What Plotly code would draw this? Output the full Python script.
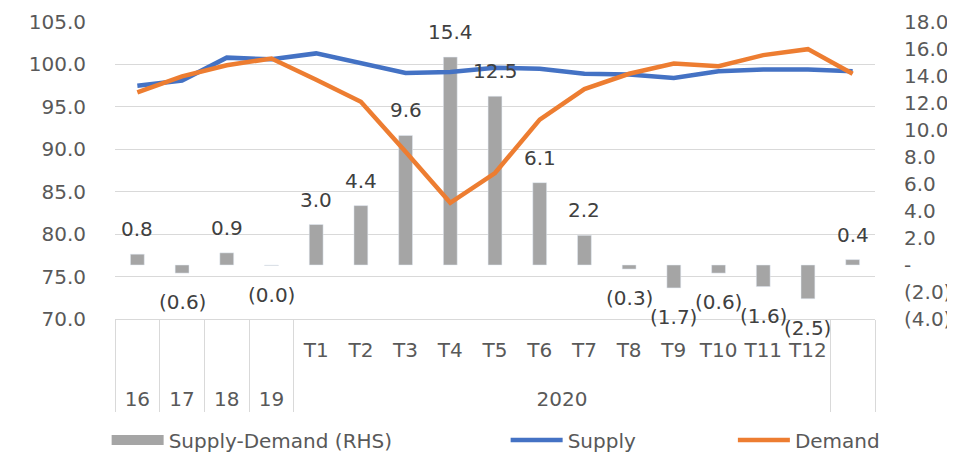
import plotly.graph_objects as go

# 分类：前四个为年份，后十二个为2020年各月，最后一个为空
years = ["16", "17", "18", "19"] + ["2020"] * 12 + [" "]
months = [" "] * 4 + [f"T{i}" for i in range(1, 13)] + [" "]

# 供需差（右轴）
gap = [0.8, -0.6, 0.9, -0.04, 3.0, 4.4, 9.6, 15.4, 12.5, 6.1, 2.2,
       -0.3, -1.7, -0.6, -1.6, -2.5, 0.4]
# 供给 / 需求（左轴）
supply = [97.5, 98.1, 100.8, 100.6, 101.3, 100.1, 99.0, 99.1, 99.6, 99.5,
          98.9, 98.8, 98.4, 99.2, 99.4, 99.4, 99.2]
demand = [96.7, 98.6, 99.9, 100.7, 98.2, 95.6, 89.7, 83.7, 87.2, 93.5,
          97.1, 98.9, 100.1, 99.8, 101.1, 101.8, 98.9]

right_vals = [-4, -2, 0, 2, 4, 6, 8, 10, 12, 14, 16, 18]
right_text = ["(4.0)", "(2.0)", "-", "2.0", "4.0", "6.0", "8.0", "10.0",
              "12.0", "14.0", "16.0", "18.0"]

FONT = "DejaVu Sans"
GREY_TXT = "#595959"
BLUE, ORANGE, BAR = "#4472C4", "#ED7D31", "#A5A5A5"

# 外层标签前加一个空行，让年份那一行往下移；空白内层标签用大字号撑高第一行
pad = '<span style="font-size:29px">\u00a0</span>'
x = [["<br>" + y for y in years], [pad if m == " " else m for m in months]]

fig = go.Figure()

# 柱状图在底层坐标轴（右侧），折线在覆盖轴（左侧）上，保证折线在上方
fig.add_trace(go.Bar(x=x, y=gap, name="Supply-Demand (RHS)", marker_color=BAR,
                     width=0.31, yaxis="y", showlegend=False))
fig.add_trace(go.Scatter(x=[None], y=[None], mode="lines", name="Supply-Demand (RHS)",
                         line=dict(color=BAR, width=10), legend="legend"))
fig.add_trace(go.Scatter(x=x, y=supply, mode="lines", name="Supply",
                         line=dict(color=BLUE, width=4.5), yaxis="y2", legend="legend2"))
fig.add_trace(go.Scatter(x=x, y=demand, mode="lines", name="Demand",
                         line=dict(color=ORANGE, width=4.5), yaxis="y2", legend="legend3"))

# 数据标签
for i, v in enumerate(gap):
    txt = f"{v:.1f}" if v >= 0 else f"({abs(v):.1f})"
    fig.add_annotation(x=i, y=v, xref="x", yref="y", text=txt, showarrow=False,
                       yshift=25 if v >= 0 else -29,
                       font=dict(family=FONT, size=20, color="#404040"))

legend_common = dict(orientation="h", yanchor="middle", y=-0.407, xanchor="left",
                     font=dict(family=FONT, size=20, color=GREY_TXT),
                     bgcolor="rgba(0,0,0,0)", itemwidth=52)

# 页面 body 默认有 8px 外边距，这里把尺寸和边距相应减掉
fig.update_layout(
    width=947, height=445,
    margin=dict(l=107, r=80, t=14, b=134, autoexpand=False),
    plot_bgcolor="white", paper_bgcolor="white",
    font=dict(family=FONT, size=20, color=GREY_TXT),
    xaxis=dict(type="multicategory", showdividers=True, dividercolor="#d9d9d9",
               dividerwidth=1, showline=True, linecolor="#d9d9d9", linewidth=1,
               showgrid=False, ticks="", tickangle=0, automargin=False,
               ticklabelstandoff=13,
               tickfont=dict(family=FONT, size=20, color=GREY_TXT)),
    yaxis=dict(side="right", range=[-4, 18], tickvals=right_vals, ticktext=right_text,
               showgrid=False, zeroline=False, ticklabelstandoff=28, automargin=False,
               tickfont=dict(family=FONT, size=20, color=GREY_TXT)),
    yaxis2=dict(overlaying="y", side="left", range=[70, 105], dtick=5, tickformat=".1f",
                showgrid=True, gridcolor="#d9d9d9", gridwidth=1, zeroline=False,
                ticklabelstandoff=28, automargin=False,
                tickfont=dict(family=FONT, size=20, color=GREY_TXT)),
    legend=dict(x=-0.011, **legend_common),
    legend2=dict(x=0.514, **legend_common),
    legend3=dict(x=0.813, **legend_common),
)

fig.write_html("out.html")
